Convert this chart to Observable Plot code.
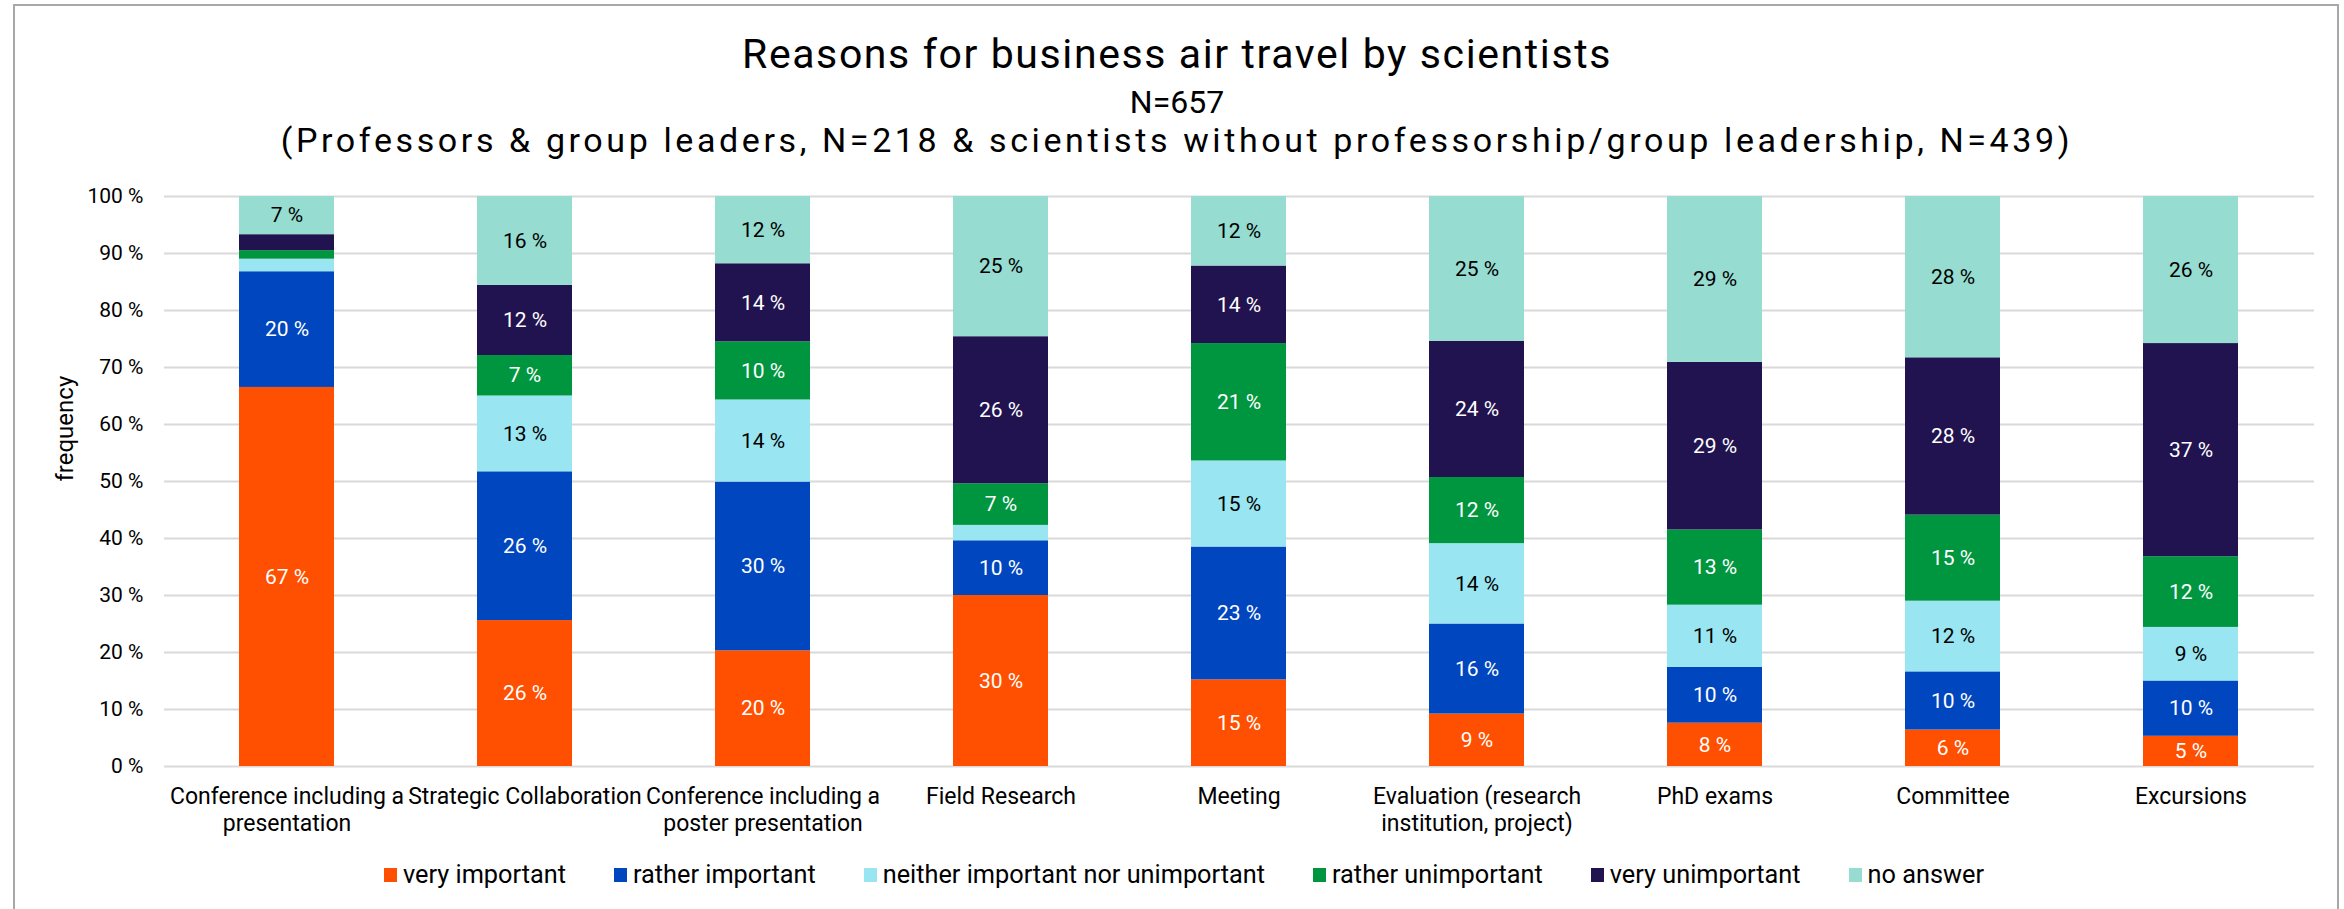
<!DOCTYPE html>
<html>
<head>
<meta charset="utf-8">
<script src="https://cdn.jsdelivr.net/npm/d3@7"></script>
<script src="https://cdn.jsdelivr.net/npm/@observablehq/plot@0.6"></script>
<style>
html, body { margin: 0; padding: 0; background: #fff; }
#chart { position: relative; width: 2344px; height: 909px; overflow: hidden; font-family: Roboto, "Open Sans", sans-serif; color: #000; }
#frame { position: absolute; left: 13px; top: 4px; width: 2326px; height: 960px; border: 2px solid #a8a8a8; box-sizing: border-box; }
.t { position: absolute; left: 0; width: 2354px; text-align: center; line-height: 1; white-space: nowrap; }
#plot { position: absolute; left: 0; top: 150px; }
#legend { position: absolute; left: 0; width: 2368px; top: 861px; display: flex; justify-content: center; gap: 48px; font-size: 25.3px; line-height: 28px; white-space: nowrap; }
.item { display: flex; align-items: center; gap: 6px; }
.sw { width: 13px; height: 14px; display: inline-block; }
</style>
</head>
<body>
<div id="chart">
  <div id="frame"></div>
  <div class="t" id="title" style="top:34px;font-size:41px;letter-spacing:1.6px"></div>
  <div class="t" id="sub1" style="top:86px;font-size:32px"></div>
  <div class="t" id="sub2" style="top:123px;font-size:34px;letter-spacing:3.6px"></div>
  <div id="plot"></div>
  <div id="legend"></div>
</div>
<script>
const titleText = "Reasons for business air travel by scientists";
const subtitle1 = "N=657";
const subtitle2 = "(Professors & group leaders, N=218 & scientists without professorship/group leadership, N=439)";

const categories = [
  "Conference including a presentation",
  "Strategic Collaboration",
  "Conference including a poster presentation",
  "Field Research",
  "Meeting",
  "Evaluation (research institution, project)",
  "PhD exams",
  "Committee",
  "Excursions"
];
const tickLabels = [
  "Conference including a\npresentation",
  "Strategic Collaboration",
  "Conference including a\nposter presentation",
  "Field Research",
  "Meeting",
  "Evaluation (research\ninstitution, project)",
  "PhD exams",
  "Committee",
  "Excursions"
];
const seriesNames = [
  "very important",
  "rather important",
  "neither important nor unimportant",
  "rather unimportant",
  "very unimportant",
  "no answer"
];
const seriesColors = ["#FF4F00", "#0046BE", "#99E6F2", "#009640", "#21134F", "#96DCD0"];
const labelColors = ["white", "white", "black", "white", "white", "black"];

const veryImportant     = [66.5, 25.6, 20.3, 30.0, 15.2,  9.2,  7.6,  6.4,  5.3];
const ratherImportant   = [20.3, 26.1, 29.6,  9.6, 23.3, 15.8,  9.8, 10.2,  9.7];
const neitherNor        = [ 2.2, 13.3, 14.4,  2.7, 15.1, 14.1, 10.9, 12.4,  9.4];
const ratherUnimportant = [ 1.5,  7.1, 10.2,  7.3, 20.6, 11.6, 13.2, 15.1, 12.4];
const veryUnimportant   = [ 2.8, 12.3, 13.7, 25.8, 13.6, 23.9, 29.4, 27.6, 37.4];
const noAnswer          = [ 6.7, 15.6, 11.8, 24.6, 12.2, 25.4, 29.1, 28.3, 25.8];

const yTicks = [0, 10, 20, 30, 40, 50, 60, 70, 80, 90, 100];
const yLabel = "frequency";

const seriesValues = [veryImportant, ratherImportant, neitherNor, ratherUnimportant, veryUnimportant, noAnswer];
const rows = [];
seriesValues.forEach((vals, si) => vals.forEach((v, ci) => rows.push({category: categories[ci], series: seriesNames[si], value: v})));

const labelText = (wantColor) => (d) => {
  const si = seriesNames.indexOf(d.series);
  if (labelColors[si] !== wantColor) return null;
  return d.value >= 4 ? `${Math.round(d.value)} %` : null;
};

document.getElementById("title").textContent = titleText;
document.getElementById("sub1").textContent = subtitle1;
document.getElementById("sub2").textContent = subtitle2;

const plot = Plot.plot({
  width: 2344,
  height: 700,
  marginTop: 46,
  marginBottom: 84,
  marginLeft: 164,
  marginRight: 30,
  style: {fontFamily: 'Roboto, "Open Sans", sans-serif', fontSize: "21px", color: "#000", background: "transparent", overflow: "visible"},
  x: {domain: categories, paddingInner: 0.6, paddingOuter: 0.3, label: null},
  y: {domain: [0, 100], label: null},
  color: {domain: seriesNames, range: seriesColors},
  marks: [
    Plot.gridY(yTicks, {stroke: "#d9d9d9", strokeOpacity: 1, strokeWidth: 2}),
    Plot.barY(rows, {x: "category", y: "value", fill: "series", order: seriesNames}),
    Plot.text(rows, Plot.stackY({x: "category", y: "value", z: "series", order: seriesNames, text: labelText("white"), fill: "white", fontSize: 21})),
    Plot.text(rows, Plot.stackY({x: "category", y: "value", z: "series", order: seriesNames, text: labelText("black"), fill: "black", fontSize: 21})),
    Plot.axisY(yTicks, {tickSize: 0, tickPadding: 21, tickFormat: d => `${d} %`, fontSize: 21, label: null}),
    Plot.text([yLabel], {frameAnchor: "left", dx: -99, rotate: -90, fontSize: 24, fill: "black"}),
    Plot.axisX({tickSize: 0, tickPadding: 19, tickFormat: c => tickLabels[categories.indexOf(c)], fontSize: 23, lineHeight: 1.15, label: null})
  ]
});
document.getElementById("plot").appendChild(plot);

const legend = document.getElementById("legend");
seriesNames.forEach((name, i) => {
  const item = document.createElement("div");
  item.className = "item";
  const sw = document.createElement("span");
  sw.className = "sw";
  sw.style.background = seriesColors[i];
  const tx = document.createElement("span");
  tx.textContent = name;
  item.appendChild(sw);
  item.appendChild(tx);
  legend.appendChild(item);
});
</script>
</body>
</html>
